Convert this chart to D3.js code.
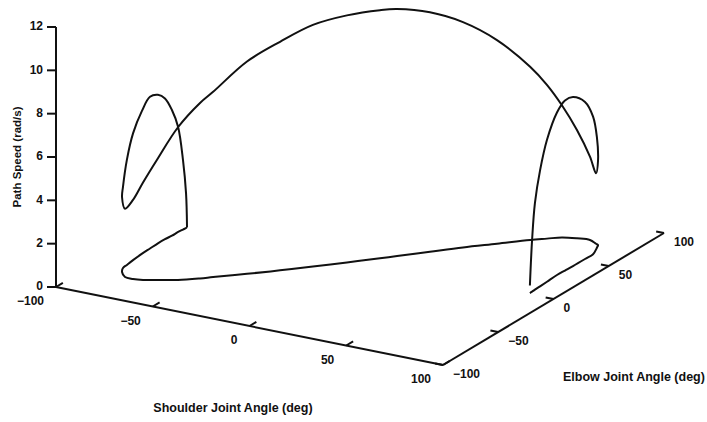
<!DOCTYPE html>
<html>
<head>
<meta charset="utf-8">
<script src="https://cdn.jsdelivr.net/npm/d3@7"></script>
<style>
	body { margin: 0; background: #fff; }
	text { font-family: "Liberation Sans", Arial, sans-serif; font-weight: bold; fill: #111; }
</style>
</head>
<body>
<svg id="chart"></svg>
<script>
// trajectory samples, in time order
const shoulder = [-88.2, -87.9, -88.1, -88.4, -88.4, -88.8, -88.9, -88.6, -88.3, -87.6, -86.9, -86.4, -84.2, -79.8, -75.4, -70.9, -65.5, -57.4, -49.9, -45.7, -34.7, -24.2, -14.0, -3.5, 6.6, 11.8, 21.7, 31.7, 42.4, 52.8, 58.4, 63.4, 69.8, 75.9, 80.7, 82.3, 83.6, 86.3, 86.3, 86.2, 86.0, 85.8, 86.3, 86.6, 86.8, 87.0, 87.0];
const elbow = [-2.1, -3.5, -5.9, -9.8, -15.4, -21.0, -27.2, -34.9, -42.6, -52.0, -58.8, -63.2, -67.9, -72.9, -73.4, -72.2, -69.0, -64.2, -57.4, -52.9, -41.5, -30.0, -18.1, -5.7, 6.5, 12.9, 25.3, 37.7, 49.7, 61.5, 66.9, 71.7, 74.1, 75.2, 72.3, 71.3, 68.0, 59.8, 52.5, 41.8, 34.9, 28.0, 18.1, 11.3, 6.3, 3.4, 1.4];
const speed = [0, 1.6, 3.2, 4.85, 5.8, 6.5, 6.85, 7.0, 6.6, 5.85, 4.85, 3.75, 3.45, 3.15, 3.65, 4.5, 5.55, 7.05, 8.1, 8.55, 9.8, 10.55, 11.15, 11.4, 11.45, 11.4, 11.05, 10.4, 9.4, 8.0, 7.1, 6.1, 5.0, 3.85, 3.25, 3.9, 5.1, 6.35, 7.25, 7.8, 7.85, 7.5, 6.55, 5.35, 4.0, 2.4, 0.35];

const shoulderTicks = [-100, -50, 0, 50, 100],
	elbowTicks = [-100, -50, 0, 50, 100],
	speedTicks = [0, 2, 4, 6, 8, 10, 12];

const width = 707,
	height = 422;

const svg = d3.select('svg#chart')
	.attr('width', width)
	.attr('height', height);

// oblique 3d projection: box corner (s=-100, e=-100, z=0) sits at origin
const origin = [56, 287],
	sVec = [387, 78],
	eVec = [221, -132];

const sScale = d3.scaleLinear().domain([-100, 100]).range([0, 1]),
	eScale = d3.scaleLinear().domain([-100, 100]).range([0, 1]),
	zScale = d3.scaleLinear().domain([0, 12]).range([0, 260]);

function project(s, e, z) {
	const u = sScale(s), v = eScale(e);
	return [
		origin[0] + u * sVec[0] + v * eVec[0],
		origin[1] + u * sVec[1] + v * eVec[1] - zScale(z)
	];
}

const sLen = Math.hypot(sVec[0], sVec[1]),
	eLen = Math.hypot(eVec[0], eVec[1]),
	sUnit = [sVec[0] / sLen, sVec[1] / sLen],
	eUnit = [eVec[0] / eLen, eVec[1] / eLen];

const fmt = d => String(d).replace('-', '\u2212');

const axisG = svg.append('g')
	.attr('stroke', '#111')
	.attr('stroke-width', 2)
	.attr('fill', 'none');

// axis lines
const axes = [
	[project(-100, -100, 0), project(-100, -100, 12)],
	[project(-100, -100, 0), project(100, -100, 0)],
	[project(100, -100, 0), project(100, 100, 0)]
];
axisG.selectAll('line.axis').data(axes).enter().append('line')
	.classed('axis', true)
	.attr('x1', d => d[0][0]).attr('y1', d => d[0][1])
	.attr('x2', d => d[1][0]).attr('y2', d => d[1][1]);

// speed ticks
axisG.selectAll('line.ztick').data(speedTicks).enter().append('line')
	.classed('ztick', true)
	.attr('x1', d => project(-100, -100, d)[0])
	.attr('y1', d => project(-100, -100, d)[1])
	.attr('x2', d => project(-100, -100, d)[0] - 9)
	.attr('y2', d => project(-100, -100, d)[1]);

svg.selectAll('text.zlab').data(speedTicks).enter().append('text')
	.classed('zlab', true)
	.attr('x', d => project(-100, -100, d)[0] - 13)
	.attr('y', d => project(-100, -100, d)[1] - 1)
	.attr('dy', '0.35em')
	.attr('text-anchor', 'end')
	.attr('font-size', 12)
	.text(fmt);

// shoulder ticks
axisG.selectAll('line.stick').data(shoulderTicks).enter().append('line')
	.classed('stick', true)
	.attr('x1', d => project(d, -100, 0)[0])
	.attr('y1', d => project(d, -100, 0)[1])
	.attr('x2', d => project(d, -100, 0)[0] + eUnit[0] * 8)
	.attr('y2', d => project(d, -100, 0)[1] + eUnit[1] * 8);

svg.selectAll('text.slab').data(shoulderTicks).enter().append('text')
	.classed('slab', true)
	.attr('x', d => project(d, -100, 0)[0] - 12)
	.attr('y', d => project(d, -100, 0)[1] + 14)
	.attr('dy', '0.35em')
	.attr('text-anchor', 'end')
	.attr('font-size', 12)
	.text(fmt);

// elbow ticks
axisG.selectAll('line.etick').data(elbowTicks).enter().append('line')
	.classed('etick', true)
	.attr('x1', d => project(100, d, 0)[0])
	.attr('y1', d => project(100, d, 0)[1])
	.attr('x2', d => project(100, d, 0)[0] - sUnit[0] * 8)
	.attr('y2', d => project(100, d, 0)[1] - sUnit[1] * 8);

svg.selectAll('text.elab').data(elbowTicks).enter().append('text')
	.classed('elab', true)
	.attr('x', d => project(100, d, 0)[0] + 10)
	.attr('y', d => project(100, d, 0)[1] + 9)
	.attr('dy', '0.35em')
	.attr('text-anchor', 'start')
	.attr('font-size', 12)
	.text(fmt);

// axis titles
svg.append('text')
	.attr('transform', 'translate(21,157) rotate(-90)')
	.attr('text-anchor', 'middle')
	.attr('font-size', 11.5)
	.text('Path Speed (rad/s)');

svg.append('text')
	.attr('x', 233).attr('y', 412)
	.attr('text-anchor', 'middle')
	.attr('font-size', 12.5)
	.text('Shoulder Joint Angle (deg)');

svg.append('text')
	.attr('x', 563).attr('y', 381)
	.attr('text-anchor', 'start')
	.attr('font-size', 12.5)
	.text('Elbow Joint Angle (deg)');

// trajectory and its shadow on the floor
const pts3d = shoulder.map((s, i) => project(s, elbow[i], speed[i])),
	ptsFloor = shoulder.map((s, i) => project(s, elbow[i], 0));

const line = d3.line().curve(d3.curveCatmullRom.alpha(0.5));

svg.append('path')
	.attr('d', line(ptsFloor))
	.attr('fill', 'none')
	.attr('stroke', '#111')
	.attr('stroke-width', 2);

svg.append('path')
	.attr('d', line(pts3d))
	.attr('fill', 'none')
	.attr('stroke', '#111')
	.attr('stroke-width', 2);
</script>
</body>
</html>
